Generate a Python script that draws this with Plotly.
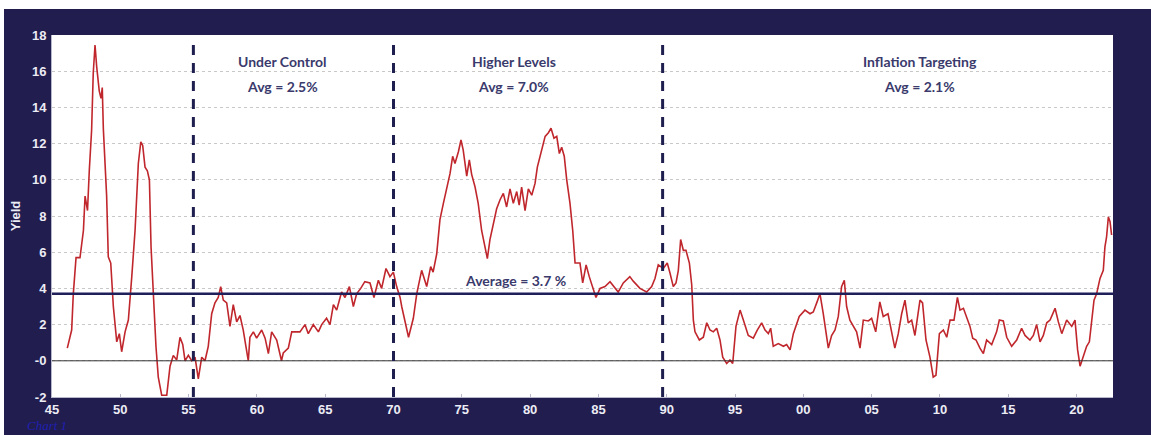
import plotly.graph_objects as go

# ---- data ----
years = [
    1946.12, 1946.44, 1946.56, 1946.76, 1947.05, 1947.30, 1947.42, 1947.60, 1947.73, 1947.90,
    1948.02, 1948.15, 1948.27, 1948.46, 1948.59, 1948.68, 1948.76, 1948.90, 1949.00, 1949.12,
    1949.30, 1949.49, 1949.74, 1949.93, 1950.10, 1950.35, 1950.59, 1950.84, 1951.08, 1951.32,
    1951.50, 1951.64, 1951.81, 1951.98, 1952.13, 1952.25, 1952.42, 1952.61, 1952.78, 1953.03,
    1953.40, 1953.64, 1953.88, 1954.13, 1954.37, 1954.57, 1954.74, 1954.98, 1955.23, 1955.47,
    1955.71, 1955.96, 1956.20, 1956.44, 1956.69, 1956.93, 1957.17, 1957.35, 1957.54, 1957.79,
    1958.03, 1958.27, 1958.52, 1958.76, 1959.00, 1959.25, 1959.37, 1959.49, 1959.74, 1959.98,
    1960.35, 1960.60, 1960.84, 1961.08, 1961.45, 1961.80, 1961.93, 1962.30, 1962.55, 1963.15,
    1963.52, 1963.76, 1964.13, 1964.50, 1964.74, 1965.10, 1965.35, 1965.60, 1965.84, 1966.20,
    1966.45, 1966.77, 1967.06, 1967.30, 1967.60, 1967.90, 1968.28, 1968.57, 1968.89, 1969.13,
    1969.45, 1969.74, 1969.99, 1970.23, 1970.48, 1970.60, 1970.97, 1971.10, 1971.45, 1971.70,
    1972.06, 1972.43, 1972.72, 1972.90, 1973.16, 1973.40, 1973.65, 1973.90, 1974.14, 1974.33,
    1974.50, 1974.75, 1974.94, 1975.10, 1975.36, 1975.55, 1975.72, 1975.97, 1976.20, 1976.45,
    1976.70, 1976.87, 1977.06, 1977.30, 1977.55, 1977.80, 1978.04, 1978.28, 1978.53, 1978.77,
    1979.02, 1979.20, 1979.38, 1979.63, 1979.87, 1980.12, 1980.36, 1980.53, 1980.85, 1981.10,
    1981.34, 1981.53, 1981.75, 1981.95, 1982.14, 1982.31, 1982.50, 1982.68, 1982.92, 1983.12,
    1983.29, 1983.65, 1983.85, 1984.10, 1984.33, 1984.58, 1984.82, 1985.12, 1985.48, 1985.85,
    1986.20, 1986.45, 1986.82, 1987.30, 1987.55, 1988.04, 1988.53, 1988.77, 1988.90, 1989.14,
    1989.38, 1989.75, 1990.04, 1990.24, 1990.48, 1990.68, 1990.85, 1991.02, 1991.22, 1991.41,
    1991.66, 1991.83, 1991.95, 1992.07, 1992.39, 1992.68, 1992.93, 1993.17, 1993.41, 1993.66,
    1993.90, 1994.10, 1994.39, 1994.63, 1994.83, 1995.07, 1995.37, 1995.61, 1995.97, 1996.34,
    1996.63, 1996.95, 1997.20, 1997.44, 1997.61, 1997.80, 1998.17, 1998.54, 1998.78, 1999.03,
    1999.27, 1999.70, 2000.12, 2000.49, 2000.73, 2000.98, 2001.22, 2001.46, 2001.83, 2002.07,
    2002.32, 2002.56, 2002.80, 2003.00, 2003.17, 2003.41, 2003.66, 2003.90, 2004.15, 2004.39,
    2004.76, 2005.00, 2005.30, 2005.60, 2005.85, 2006.20, 2006.70, 2006.95, 2007.20, 2007.44,
    2007.68, 2007.93, 2008.17, 2008.54, 2008.73, 2008.98, 2009.27, 2009.51, 2009.71, 2009.96,
    2010.25, 2010.50, 2010.74, 2011.03, 2011.28, 2011.47, 2011.72, 2011.96, 2012.20, 2012.40,
    2012.64, 2012.93, 2013.18, 2013.42, 2013.79, 2014.15, 2014.35, 2014.64, 2014.89, 2015.25,
    2015.62, 2015.98, 2016.23, 2016.59, 2016.84, 2017.08, 2017.33, 2017.57, 2017.82, 2018.06,
    2018.43, 2018.67, 2018.92, 2019.28, 2019.65, 2019.89, 2020.08, 2020.26, 2020.50, 2020.74,
    2020.94, 2021.10, 2021.28, 2021.47, 2021.72, 2021.96, 2022.08, 2022.20, 2022.33, 2022.45,
    2022.57,
]
inflation = [
    0.7, 1.7, 3.7, 5.7, 5.7, 7.2, 9.1, 8.3, 10.5, 12.75,
    15.9, 17.45, 16.25, 14.9, 14.5, 15.1, 12.8, 10.9, 9.1, 5.75,
    5.4, 3.0, 1.05, 1.5, 0.5, 1.6, 2.25, 4.65, 7.2, 10.9,
    12.1, 11.9, 10.7, 10.5, 10.0, 6.3, 3.5, 0.8, -0.9, -1.9,
    -1.9, -0.3, 0.3, 0.05, 1.3, 0.9, 0.0, 0.3, 0.0, 0.2,
    -1.0, 0.2, 0.0, 0.8, 2.6, 3.2, 3.5, 4.1, 3.35, 3.2,
    1.9, 3.1, 2.15, 2.5, 1.7, 0.6, 0.0, 1.3, 1.6, 1.25,
    1.7, 1.25, 0.4, 1.6, 1.15, 0.0, 0.43, 0.7, 1.6, 1.6,
    2.0, 1.5, 2.0, 1.6, 2.0, 2.35, 2.0, 3.1, 2.8, 3.8,
    3.5, 4.1, 3.0, 3.7, 4.0, 4.37, 4.3, 3.5, 4.45, 4.0,
    5.1, 4.65, 4.9, 4.1, 3.5, 3.0, 1.6, 1.3, 2.35, 3.7,
    5.0, 4.1, 5.2, 4.9, 5.9, 7.8, 8.7, 9.6, 10.35, 11.3,
    10.9, 11.55, 12.2, 11.65, 10.2, 11.1, 10.3, 9.6, 8.7, 7.2,
    6.3, 5.65, 6.7, 7.6, 8.4, 8.9, 9.25, 8.5, 9.5, 8.7,
    9.35, 8.6, 9.6, 8.3, 9.5, 9.15, 9.8, 10.7, 11.65, 12.4,
    12.6, 12.85, 12.3, 12.4, 11.45, 11.8, 11.3, 10.0, 8.7, 7.2,
    5.4, 5.4, 4.3, 5.3, 4.65, 4.1, 3.5, 4.0, 4.1, 4.37,
    4.0, 3.8, 4.3, 4.65, 4.4, 4.0, 3.8, 4.0, 4.1, 4.55,
    5.3, 5.1, 5.4, 4.85, 4.1, 4.3, 5.0, 6.7, 6.1, 6.1,
    5.4, 4.2, 2.25, 1.6, 1.15, 1.3, 2.1, 1.7, 1.6, 1.8,
    1.15, 0.2, -0.15, 0.05, -0.15, 1.9, 2.8, 2.25, 1.4, 1.25,
    1.7, 2.1, 1.7, 1.5, 1.8, 0.8, 0.95, 0.8, 0.9, 0.6,
    1.5, 2.45, 2.8, 2.6, 2.7, 3.2, 3.7, 2.6, 0.7, 1.4,
    1.7, 2.45, 4.1, 4.45, 3.0, 2.25, 1.9, 1.6, 0.7, 2.25,
    2.2, 2.35, 1.6, 3.25, 2.45, 2.6, 0.7, 1.5, 2.6, 3.35,
    2.1, 2.25, 1.4, 3.35, 3.2, 1.15, 0.2, -0.9, -0.8, 1.5,
    1.7, 1.3, 2.25, 2.25, 3.5, 2.8, 2.9, 2.45, 1.9, 1.25,
    1.15, 0.7, 0.4, 1.15, 0.9, 1.6, 2.25, 2.2, 1.3, 0.8,
    1.15, 1.8, 1.4, 1.15, 1.4, 2.0, 1.05, 1.4, 2.1, 2.25,
    2.9, 2.15, 1.5, 2.25, 1.9, 2.25, 0.6, -0.3, 0.2, 0.8,
    1.05, 2.1, 3.35, 3.7, 4.55, 5.0, 6.3, 6.85, 7.95, 7.7,
    6.95,
]

overall_avg = 3.7
regime_breaks = [1955.35, 1970.0, 1989.7]
regime_names = ["Under Control", "Higher Levels", "Inflation Targeting"]
regime_avgs = ["Avg = 2.5%", "Avg = 7.0%", "Avg = 2.1%"]
regime_label_x = [1961.84, 1978.82, 2008.54]

y_ticks = [-2, 0, 2, 4, 6, 8, 10, 12, 14, 16, 18]
y_ticktext = ["-2", "-0", "2", "4", "6", "8", "10", "12", "14", "16", "18"]
x_ticks = [1945 + 5 * i for i in range(16)]
x_ticktext = ["45", "50", "55", "60", "65", "70", "75", "80", "85", "90",
              "95", "00", "05", "10", "15", "20"]

NAVY = "#211d4f"
TEXT = "#3a3a6c"
PLOT_W = 1061
PLOT_H = 362

fig = go.Figure()
fig.add_trace(go.Scatter(x=years, y=inflation, mode="lines",
                         line=dict(color="#c0272d", width=1.6),
                         hoverinfo="skip", showlegend=False))

shapes = []
# zero line
shapes.append(dict(type="line", xref="paper", yref="y", x0=0, x1=1, y0=0, y1=0,
                   line=dict(color="#333333", width=1), layer="above"))
# overall average line
shapes.append(dict(type="line", xref="paper", yref="y", x0=0, x1=1,
                   y0=overall_avg, y1=overall_avg,
                   line=dict(color="#1f1f5a", width=2.5), layer="above"))
# regime dividers
for xb in regime_breaks:
    shapes.append(dict(type="line", xref="x", yref="y", x0=xb, x1=xb, y0=-2, y1=17.6,
                       line=dict(color="#1f1f4f", width=3, dash="10px,8px"), layer="above"))
# thin white border strips along the top and left edges of the image
shapes.append(dict(type="rect", xref="paper", yref="paper", x0=-0.06, x1=1.05,
                   y0=1 + 26 / PLOT_H, y1=1 + 40 / PLOT_H, fillcolor="white", line=dict(width=0)))
shapes.append(dict(type="rect", xref="paper", yref="paper", x0=-0.06, x1=-48 / PLOT_W,
                   y0=-0.2, y1=1.2, fillcolor="white", line=dict(width=0)))

annotations = []
for name, avg, lx in zip(regime_names, regime_avgs, regime_label_x):
    annotations.append(dict(x=lx, y=16.56, xref="x", yref="y", text=name, showarrow=False,
                            font=dict(family="Lato", size=14, color=TEXT, weight="bold")))
    annotations.append(dict(x=lx, y=15.18, xref="x", yref="y", text=avg, showarrow=False,
                            font=dict(family="Lato", size=14, color=TEXT, weight="bold")))
annotations.append(dict(x=1978.9, y=4.41, xref="x", yref="y",
                        text="Average = %.1f %%" % overall_avg, showarrow=False,
                        font=dict(family="Lato", size=14, color=TEXT, weight="bold")))
annotations.append(dict(x=-27 / PLOT_W, y=-28 / PLOT_H, xref="paper", yref="paper",
                        xanchor="left", yanchor="middle", text="<i>Chart 1</i>", showarrow=False,
                        font=dict(family="Liberation Serif", size=13, color="#2020b0")))

fig.update_layout(
    width=1151, height=435,
    margin=dict(l=52, r=38, t=35, b=38, autoexpand=False),
    paper_bgcolor=NAVY, plot_bgcolor="white",
    shapes=shapes, annotations=annotations,
    xaxis=dict(range=[1945, 2022.67], tickvals=x_ticks, ticktext=x_ticktext, automargin=False,
               showgrid=False, zeroline=False, showline=True, linecolor="#b8b8cc", linewidth=1,
               ticks="inside", ticklen=3, tickcolor="#b8b8cc",
               tickfont=dict(family="Liberation Sans", size=13, color="#ececf4", weight="bold")),
    yaxis=dict(range=[-2, 18], tickvals=y_ticks, ticktext=y_ticktext, automargin=False,
               showgrid=True, gridcolor="#c8c8c8", griddash="dot", gridwidth=1,
               zeroline=False, showline=True, linecolor="#b8b8cc", linewidth=1,
               ticks="", ticklabelstandoff=2,
               tickfont=dict(family="Liberation Sans", size=13, color="#ececf4", weight="bold"),
               title=dict(text="Yield", standoff=8,
                          font=dict(family="Liberation Sans", size=13, color="#ececf4",
                                    weight="bold"))),
)

fig.write_html("out.html", config={"displayModeBar": False},
               post_script="document.body.style.margin='0';document.body.style.overflow='hidden';")
